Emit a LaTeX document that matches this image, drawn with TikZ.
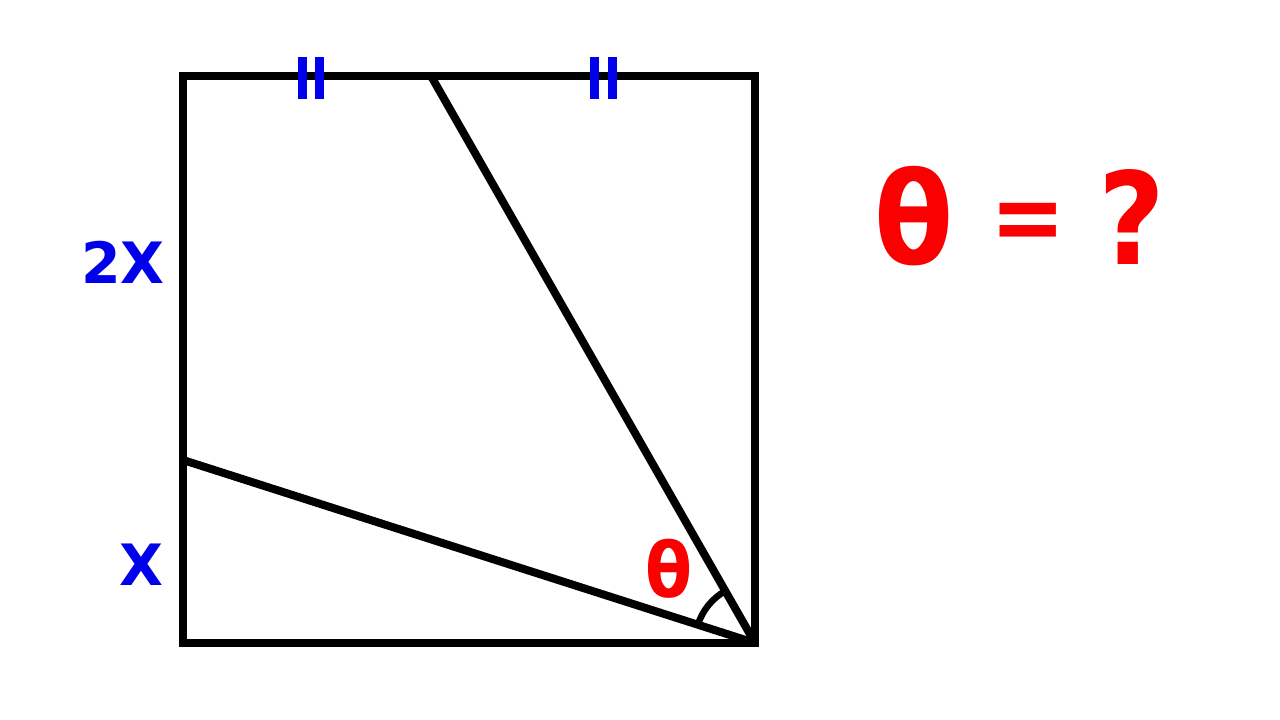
\documentclass[tikz,border=0pt]{standalone}
\usepackage{fontspec}
\setmainfont{DejaVu Sans}
\usetikzlibrary{calc}
\definecolor{lblblue}{RGB}{0,0,235}
\definecolor{lblred}{RGB}{250,0,0}
\begin{document}
\begin{tikzpicture}[x=1pt,y=-1pt,
  edge/.style={line width=8pt},
  tick/.style={line width=9pt,lblblue},
  lbl/.style={font=\bfseries\fontsize{57}{57}\selectfont,text=lblblue,inner sep=0pt},
  redlbl/.style={text=lblred,inner sep=0pt,anchor=base}]
\useasboundingbox (0,0) rectangle (1280,720);
\coordinate (A) at (183,643);
\coordinate (B) at (755,643);
\coordinate (C) at (755,76);
\coordinate (D) at (183,76);
\coordinate (P) at (431,76);
\coordinate (Q) at (183,460);
\draw[edge] (A) -- (B) -- (C) -- (D) -- cycle;
\draw[edge] (P) -- (B);
\draw[edge] (Q) -- (B);
% angle arc
\draw[line width=6.5pt] ($(B)!60pt!(Q)$) arc[start angle=162.2,end angle=119.7,radius=60pt];
% ticks
\draw[tick] (302.5,57) -- (302.5,99);
\draw[tick] (319.5,57) -- (319.5,99);
\draw[tick] (594,57) -- (594,99);
\draw[tick] (612,57) -- (612,99);
% labels
\node[lbl] (twox) at (123,262) {2X};
\node[lbl] (x) at (141,565) {X};
\node[redlbl,font=\bfseries\fontsize{76}{76}\selectfont] (th) at (669,597) {\scalebox{0.9}[1]{θ}};
\node[redlbl,font=\bfseries\fontsize{128}{128}\selectfont] (qth) at (914,264) {\scalebox{0.9}[1]{θ}};
\node[redlbl,font=\bfseries\fontsize{100}{100}\selectfont] (qeq) at (1028,251) {\scalebox{0.9}[1]{=}};
\node[redlbl,font=\bfseries\fontsize{128}{128}\selectfont] (qq) at (1132,264) {\scalebox{0.9}[1]{?}};
\end{tikzpicture}
\end{document}
